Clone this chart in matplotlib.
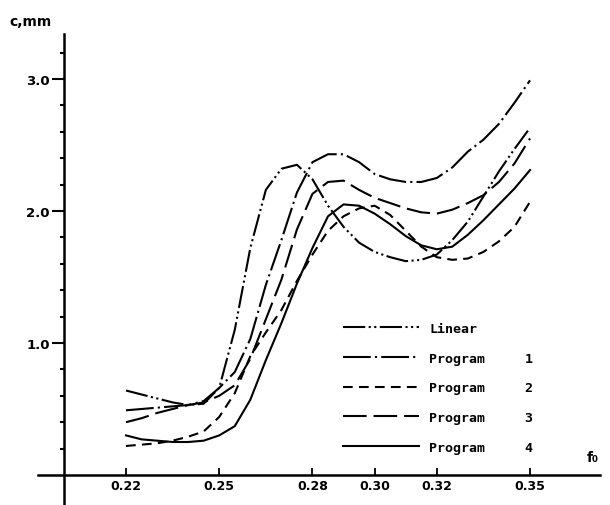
import matplotlib
matplotlib.use("Agg")
import matplotlib.pyplot as plt
from matplotlib.ticker import FixedLocator

plt.rcParams['lines.scale_dashes'] = False

# ---- data ----
x = [0.220, 0.225, 0.230, 0.235, 0.240, 0.245, 0.250, 0.255, 0.260, 0.265,
     0.270, 0.275, 0.280, 0.285, 0.290, 0.295, 0.300, 0.305, 0.310, 0.315,
     0.320, 0.325, 0.330, 0.335, 0.340, 0.345, 0.350]

linear = [0.64, 0.61, 0.58, 0.55, 0.53, 0.54, 0.66, 1.10, 1.72, 2.16,
          2.32, 2.35, 2.24, 2.04, 1.88, 1.76, 1.69, 1.65, 1.62, 1.63,
          1.67, 1.78, 1.92, 2.11, 2.30, 2.47, 2.63]

program1 = [0.49, 0.50, 0.51, 0.52, 0.53, 0.56, 0.66, 0.78, 1.03, 1.44,
            1.78, 2.14, 2.37, 2.43, 2.43, 2.37, 2.28, 2.24, 2.22, 2.22,
            2.25, 2.33, 2.45, 2.54, 2.66, 2.82, 2.99]

program2 = [0.22, 0.23, 0.24, 0.26, 0.29, 0.33, 0.44, 0.62, 0.90, 1.08,
            1.25, 1.47, 1.67, 1.85, 1.96, 2.02, 2.04, 1.97, 1.85, 1.73,
            1.65, 1.63, 1.64, 1.69, 1.77, 1.88, 2.07]

program3 = [0.40, 0.43, 0.47, 0.50, 0.53, 0.55, 0.60, 0.68, 0.88, 1.18,
            1.48, 1.86, 2.13, 2.22, 2.23, 2.16, 2.10, 2.06, 2.02, 1.99,
            1.98, 2.01, 2.06, 2.12, 2.22, 2.36, 2.55]

program4 = [0.30, 0.27, 0.26, 0.25, 0.25, 0.26, 0.30, 0.37, 0.57, 0.87,
            1.15, 1.45, 1.72, 1.96, 2.05, 2.04, 1.98, 1.90, 1.81, 1.74,
            1.71, 1.73, 1.82, 1.93, 2.05, 2.17, 2.31]

labels = ["Linear", "Program     1", "Program     2", "Program     3", "Program     4"]
x_ticks = [0.22, 0.25, 0.28, 0.30, 0.32, 0.35]
x_tick_labels = ["0.22", "0.25", "0.28", "0.30", "0.32", "0.35"]
y_ticks = [1.0, 2.0, 3.0]
y_tick_labels = ["1.0", "2.0", "3.0"]
y_minor = [0.2, 0.4, 0.6, 0.8, 1.2, 1.4, 1.6, 1.8, 2.2, 2.4, 2.6, 2.8, 3.2]

# ---- figure ----
fig = plt.figure(figsize=(6.10, 5.06), dpi=100)
ax = fig.add_axes([0, 0, 1, 1])
ax.set_xlim(0.17946, 0.37573)
ax.set_ylim(-0.2273, 3.606)

lw = 1.5
dash_linear = (0, (16, 2.5, 1.5, 2.5, 1.5, 2.5))
dash_p1 = (0, (20, 3, 1.5, 3))
dash_p2 = (0, (7, 4.5))
dash_p3 = (0, (17, 5))

series = [linear, program1, program2, program3, program4]
styles = [dash_linear, dash_p1, dash_p2, dash_p3, '-']
for ys, ls, lab in zip(series, styles, labels):
    ax.plot(x, ys, color='black', lw=lw, linestyle=ls, label=lab)

# axes
for s in ['top', 'right']:
    ax.spines[s].set_visible(False)
ax.spines['left'].set_position(('data', 0.20))
ax.spines['bottom'].set_position(('data', 0.0))
ax.spines['left'].set_bounds(-0.23, 3.34)
ax.spines['bottom'].set_bounds(0.1917, 0.3725)
ax.spines['left'].set_linewidth(1.8)
ax.spines['bottom'].set_linewidth(1.8)

ax.set_yticks(y_ticks)
ax.set_yticklabels(y_tick_labels, fontsize=9.5, fontweight='bold')
ax.yaxis.set_minor_locator(FixedLocator(y_minor))
ax.tick_params(axis='y', which='major', direction='out', length=9, width=1.5, pad=1)
ax.tick_params(axis='y', which='minor', direction='out', length=3, width=1.5)

ax.set_xticks(x_ticks)
ax.set_xticklabels(x_tick_labels, fontsize=9, fontweight='bold')
ax.tick_params(axis='x', which='major', direction='in', length=5, width=1.3, pad=3)

fig.text(0.016, 0.957, "c,mm", fontsize=10, fontweight='bold', va='center', ha='left')
fig.text(0.962, 0.095, "f\u2080", fontsize=10, fontweight='bold', va='center', ha='left')

leg = ax.legend(loc='upper left', bbox_to_anchor=(0.562, 0.362), frameon=False,
                prop={'family': 'DejaVu Sans Mono', 'weight': 'bold', 'size': 9.5},
                handlelength=5.8, handletextpad=0.75, labelspacing=1.27,
                borderpad=0, borderaxespad=0)

fig.savefig("out.png", dpi=100)
